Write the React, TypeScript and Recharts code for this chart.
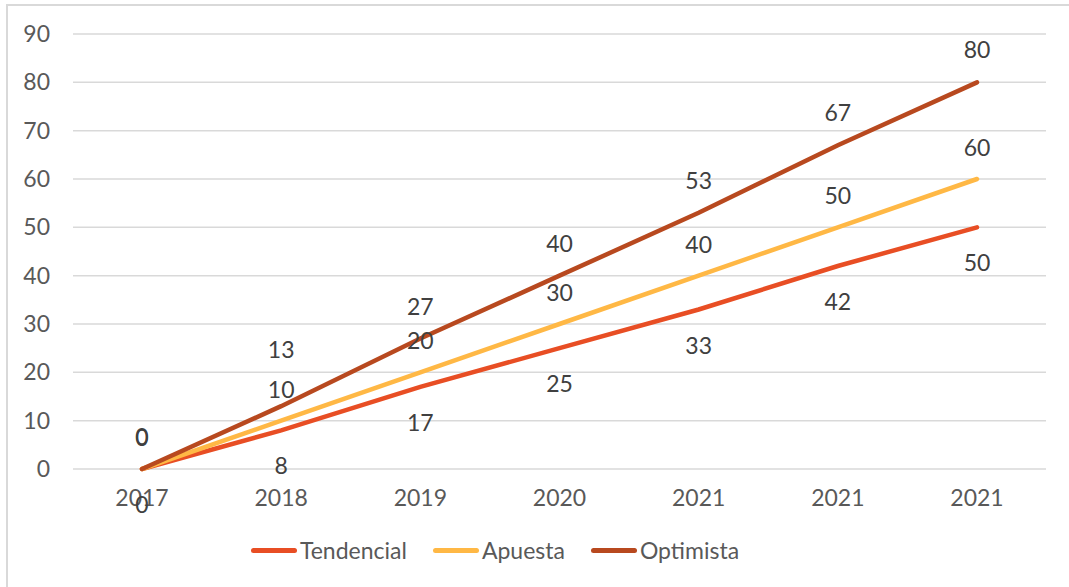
import React from 'react';
import { LineChart, Line, XAxis, YAxis, CartesianGrid, Legend, LabelList } from 'recharts';

const years = ['2017', '2018', '2019', '2020', '2021', '2021', '2021'];
const tendencial = [0, 8, 17, 25, 33, 42, 50];
const apuesta = [0, 10, 20, 30, 40, 50, 60];
const optimista = [0, 13, 27, 40, 53, 67, 80];
const yTicks = [0, 10, 20, 30, 40, 50, 60, 70, 80, 90];

const data = years.map((year, i) => ({
    year,
    tendencial: tendencial[i],
    apuesta: apuesta[i],
    optimista: optimista[i],
}));

// labelDy: default label offset; labelDyAt: per-point overrides (index -> offset)
const series = [
    { key: 'tendencial', name: 'Tendencial', color: '#E84E24', labelDy: 35, labelDyAt: {} as Record<number, number> },
    { key: 'apuesta', name: 'Apuesta', color: '#FFB845', labelDy: -32, labelDyAt: {} as Record<number, number> },
    { key: 'optimista', name: 'Optimista', color: '#B8491F', labelDy: -33, labelDyAt: { 1: -57 } as Record<number, number> },
];

const FONT = 'Lato, "DejaVu Sans", sans-serif';

const makeLabel = (dy: number, dyAt: Record<number, number>) => (props: any) => {
    const { x, y, value, index } = props;
    const off = dyAt[index] !== undefined ? dyAt[index] : dy;
    return (
        <text x={x} y={y + off} textAnchor='middle' dominantBaseline='central' fill='#404040' fontSize={23} fontFamily={FONT}>
            {value}
        </text>
    );
};

const LegendContent = () => (
    <div style={{ display: 'flex', justifyContent: 'center', alignItems: 'center', fontFamily: FONT, fontSize: 23, color: '#595959' }}>
        {series.map((s) => (
            <div key={s.key} style={{ display: 'flex', alignItems: 'center', margin: '0 13px' }}>
                <div style={{ width: 46, height: 5, borderRadius: 3, background: s.color, marginRight: 3 }} />
                <span>{s.name}</span>
            </div>
        ))}
    </div>
);

export default function App() {
    return (
        <div style={{ position: 'absolute', left: 0, top: 0, width: 1069, height: 587, background: '#fff', overflow: 'hidden' }}>
            <div style={{ position: 'absolute', left: 6, top: 4, width: 1080, height: 600, border: '2px solid #d9d9d9', boxSizing: 'border-box' }} />
            <div style={{ position: 'absolute', left: 0, top: 0 }}>
                <LineChart width={1069} height={587} data={data} margin={{ top: 34, right: 23, left: 0, bottom: 58 }}>
                    <CartesianGrid vertical={false} stroke='#d9d9d9' strokeWidth={1.5} />
                    <XAxis
                        dataKey='year'
                        height={60}
                        padding={{ left: 69, right: 69 }}
                        axisLine={false}
                        tickLine={false}
                        tickSize={0}
                        tickMargin={21}
                        interval={0}
                        tick={{ fill: '#595959', fontSize: 23, fontFamily: FONT }}
                    />
                    <YAxis
                        width={73}
                        domain={[0, 90]}
                        ticks={yTicks}
                        axisLine={false}
                        tickLine={false}
                        tickSize={0}
                        tickMargin={23}
                        tick={{ fill: '#595959', fontSize: 23, fontFamily: FONT }}
                    />
                    <Legend
                        verticalAlign='middle'
                        align='center'
                        content={<LegendContent />}
                        wrapperStyle={{ top: 536, left: 0, width: 990, height: 32 }}
                    />
                    {series.map((s) => (
                        <Line
                            key={s.key}
                            type='linear'
                            dataKey={s.key}
                            name={s.name}
                            stroke={s.color}
                            strokeWidth={4.5}
                            strokeLinecap='round'
                            dot={false}
                            activeDot={false}
                            isAnimationActive={false}
                        >
                            <LabelList dataKey={s.key} content={makeLabel(s.labelDy, s.labelDyAt)} />
                        </Line>
                    ))}
                </LineChart>
            </div>
        </div>
    );
}
